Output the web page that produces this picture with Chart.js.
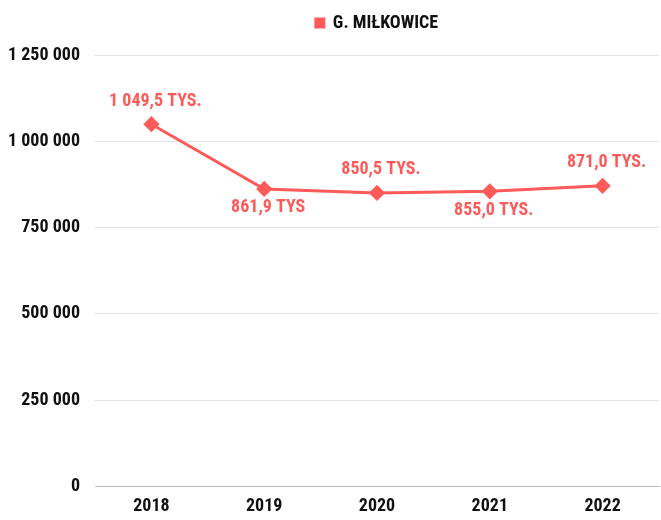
<!DOCTYPE html>
<html>
<head>
<meta charset="utf-8">
<script src="https://cdn.jsdelivr.net/npm/chart.js@4"></script>
<style>
  html, body { margin: 0; padding: 0; background: #fff; }
  #wrap { width: 661px; height: 520px; }
</style>
</head>
<body>
<div id="wrap"><canvas id="myChart"></canvas></div>
<script>
const years = ["2018", "2019", "2020", "2021", "2022"];
const values = [1049500, 861900, 850500, 855000, 871000];
const pointLabels = ["1 049,5 TYS.", "861,9 TYS", "850,5 TYS.", "855,0 TYS.", "871,0 TYS."];
const labelSide = ["top", "bottom", "top", "bottom", "top"];

const red = "#ff5a5a";
const font = "'Roboto Condensed', 'Liberation Sans Narrow', 'DejaVu Sans Condensed', 'DejaVu Sans', sans-serif";
const weight = "extra-condensed bold";

// etykiety nad / pod punktami
const valueLabels = {
  id: "valueLabels",
  afterDatasetsDraw(chart) {
    const ctx = chart.ctx;
    const meta = chart.getDatasetMeta(0);
    ctx.save();
    ctx.font = weight + " 18px " + font;
    ctx.fillStyle = red;
    ctx.textAlign = "center";
    ctx.textBaseline = "middle";
    meta.data.forEach((pt, i) => {
      const dy = labelSide[i] === "top" ? -23 : 19;
      ctx.fillText(pointLabels[i], pt.x + 4, pt.y + dy);
    });
    ctx.restore();
  },
};

// wiecej miejsca pod legenda
const legendGap = {
  id: "legendGap",
  beforeInit(chart) {
    const fit = chart.legend.fit;
    chart.legend.fit = function () {
      fit.bind(chart.legend)();
      this.height += 13;
    };
  },
};

const fmt = (v) => String(v).replace(/\B(?=(\d{3})+(?!\d))/g, " ");

new Chart(document.getElementById("myChart"), {
  type: "line",
  data: {
    labels: years,
    datasets: [
      {
        label: "G. MIŁKOWICE",
        data: values,
        borderColor: red,
        backgroundColor: red,
        borderWidth: 3,
        pointStyle: "rectRot",
        pointRadius: 6,
        pointHoverRadius: 6,
        tension: 0,
      },
    ],
  },
  options: {
    responsive: true,
    maintainAspectRatio: false,
    animation: false,
    layout: { autoPadding: false, padding: { top: 4, right: 2, left: 4, bottom: -6 } },
    scales: {
      x: {
        offset: true,
        grid: { display: false, drawTicks: false },
        border: { color: "#bbbbbb", width: 1 },
        ticks: {
          color: "#111",
          padding: 0,
          font: { family: font, size: 18, weight: weight, lineHeight: 2.2 },
        },
      },
      y: {
        min: 0,
        max: 1250000,
        afterFit: (scale) => {
          scale.width = 91;
        },
        grid: { color: "#e2e2e2", drawTicks: false },
        border: { display: false },
        ticks: {
          stepSize: 250000,
          color: "#111",
          padding: 15,
          font: { family: font, size: 18, weight: weight },
          callback: (v) => fmt(v),
        },
      },
    },
    plugins: {
      tooltip: { enabled: false },
      legend: {
        fullSize: false,
        labels: {
          color: "#111",
          usePointStyle: true,
          pointStyle: "rect",
          boxWidth: 8,
          boxHeight: 8,
          padding: 10,
          font: { family: font, size: 18, weight: weight },
        },
      },
    },
  },
  plugins: [valueLabels, legendGap],
});
</script>
</body>
</html>
